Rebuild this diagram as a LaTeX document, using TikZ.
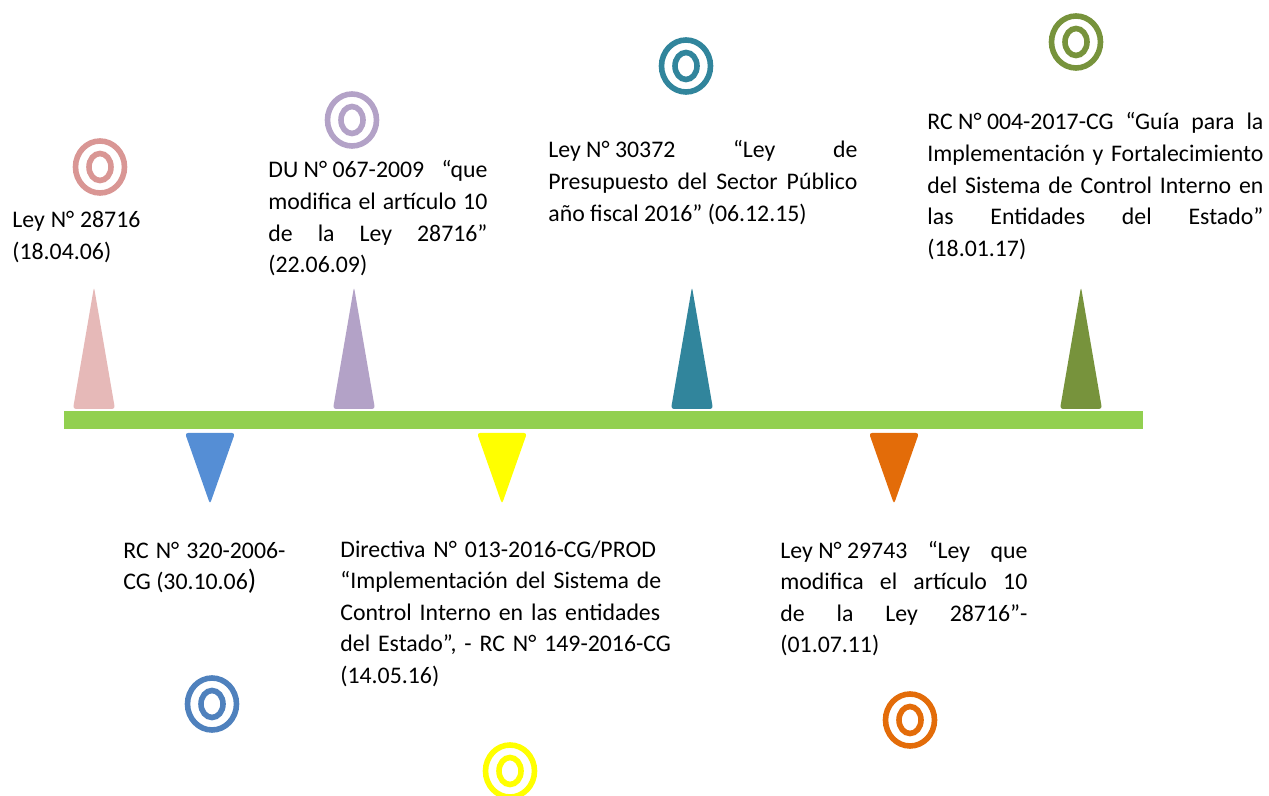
\documentclass[tikz,border=0pt]{standalone}
\usepackage{fontspec}
\setmainfont{Carlito}
\usepackage{tikz}
\usetikzlibrary{
  calc,
  positioning,
}
\hyphenpenalty=10000
\definecolor{barGreen}{HTML}{92D050}
\definecolor{pinkTri}{HTML}{E6B9B8}
\definecolor{pinkRing}{HTML}{D99694}
\definecolor{purpleTri}{HTML}{B3A2C7}
\definecolor{tealTri}{HTML}{31859C}
\definecolor{oliveTri}{HTML}{77933C}
\definecolor{blueTri}{HTML}{558ED5}
\definecolor{blueRing}{HTML}{4F81BD}
\definecolor{yellowTri}{HTML}{FFFF00}
\definecolor{orangeTri}{HTML}{E36C09}
\tikzset{
  event/.style={anchor=base west, inner sep=0pt, align=justify,
    font=\fontsize{11.9}{15.8}\selectfont},
  eventleft/.style={event, align=left},
  ring/.style={line width=2.8pt},
}

\begin{document}
\begin{tikzpicture}[x=0.5pt, y=-0.5pt]
      \clip (0, 0) rectangle (1269, 796);
      \fill [barGreen] (64, 411) rectangle (1143, 429);

      \foreach \cx/\col in {94/pinkTri, 354/purpleTri, 692/tealTri, 1081/oliveTri}
      {
        \fill [\col, rounded corners=1.5pt] (\cx - 21, 409) -- (\cx, 287) -- (\cx + 21, 409) -- cycle;
      }
      \foreach \cx/\col in {210/blueTri, 502/yellowTri, 894/orangeTri}
      {
        \fill [\col, rounded corners=1.5pt] (\cx - 25, 433) -- (\cx + 25, 433) -- (\cx, 504) -- cycle;
      }

      \foreach \cx/\cy/\col in {100/167/pinkRing, 352/120/purpleTri, 686/66/tealTri, 1076/42/oliveTri,
        212/704/blueRing, 510/771/yellowTri, 910/720/orangeTri}
      {
        \draw [ring, \col] (\cx, \cy) ellipse [x radius=24.5, y radius=26];
        \draw [ring, \col] (\cx, \cy) ellipse [x radius=11, y radius=13.5];
      }

      \node [event, text width=64pt] (ley28716) at (12, 228)
        {Ley N° 28716\linebreak (18.04.06)};
      \node [event, text width=109.5pt] (du067) at (268, 178)
        {\mbox{DU N° 067-2009} “que\linebreak modifica el artículo 10\linebreak de la Ley 28716”\linebreak (22.06.09)};
      \node [event, text width=154.5pt] (ley30372) at (548, 158)
        {\mbox{Ley N° 30372} “Ley de\linebreak Presupuesto del Sector Público\linebreak año fiscal 2016” (06.12.15)};
      \node [event, text width=168pt] (rc004) at (927, 130)
        {\mbox{RC N° 004-2017-CG} “Guía para la\linebreak Implementación y Fortalecimiento\linebreak del Sistema de Control Interno en\linebreak las Entidades del Estado”\linebreak (18.01.17)};
      \node [event, text width=81pt] (rc320) at (123, 558)
        {RC N° 320-2006-\linebreak CG (30.10.06{\fontsize{14}{15.8}\selectfont)}};
      \node [eventleft, text width=170pt] (dir013) at (340, 557)
        {Directiva N° 013-2016-CG/PROD\\ “Implementación del Sistema de\\ Control Interno en las entidades\\ del Estado”, - RC N° 149-2016-CG\\ (14.05.16)};
      \node [event, text width=123.5pt] (ley29743) at (780, 558)
        {\mbox{Ley N° 29743} “Ley que\linebreak modifica el artículo 10\linebreak de la Ley 28716”-\linebreak (01.07.11)};
    \end{tikzpicture}
\end{document}
